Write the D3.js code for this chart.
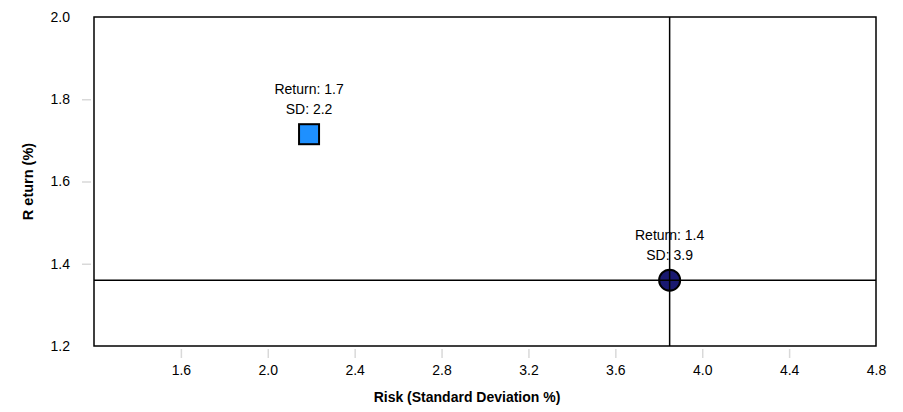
<!DOCTYPE html>
<html>
<head>
<meta charset="utf-8">
<script src="https://cdn.jsdelivr.net/npm/d3@7"></script>
<style>
  body { margin: 0; background: #fff; }
  svg { display: block; font-family: "Liberation Sans", Arial, sans-serif; }
</style>
</head>
<body>
<div id="chart"></div>
<script>
// data
const portfolios = ['Portfolio A', 'Portfolio B'];
const risk = [2.19, 3.85];
const ret = [1.715, 1.36];
const shapes = ['square', 'circle'];
const fills = ['#1e90ff', '#191970'];
const xTicks = [1.6, 2.0, 2.4, 2.8, 3.2, 3.6, 4.0, 4.4, 4.8];
const yTicks = [1.2, 1.4, 1.6, 1.8, 2.0];

const width = 903, height = 412;
const margin = { top: 17, right: 27, bottom: 66, left: 94 };
const plotW = width - margin.left - margin.right;
const plotH = height - margin.top - margin.bottom;

const svg = d3.select('#chart').append('svg')
  .attr('width', width)
  .attr('height', height);

const x = d3.scaleLinear().domain([1.2, 4.8]).range([0, plotW]);
const y = d3.scaleLinear().domain([1.2, 2.0]).range([plotH, 0]);

const g = svg.append('g').attr('transform', `translate(${margin.left},${margin.top})`);

// x axis
const xAxis = g.append('g')
  .attr('transform', `translate(0,${plotH + 3})`)
  .call(d3.axisBottom(x).tickValues(xTicks).tickFormat(d3.format('.1f')).tickSize(9).tickPadding(7));
xAxis.select('.domain').remove();
xAxis.selectAll('.tick line').attr('stroke', '#d9d9d9').attr('stroke-width', 1.5)
  .style('display', d => d >= 4.8 ? 'none' : null);
xAxis.selectAll('.tick text').attr('font-size', 14).attr('fill', '#000');

// y axis
const yAxis = g.append('g')
  .attr('transform', 'translate(-3,0)')
  .call(d3.axisLeft(y).tickValues(yTicks).tickFormat(d3.format('.1f')).tickSize(9).tickPadding(12));
yAxis.select('.domain').remove();
yAxis.selectAll('.tick line').attr('stroke', '#d9d9d9').attr('stroke-width', 1.5)
  .style('display', d => (d <= 1.2 || d >= 2.0) ? 'none' : null);
yAxis.selectAll('.tick text').attr('font-size', 14).attr('fill', '#000');

// axis titles
svg.append('text')
  .attr('x', 467)
  .attr('y', 402)
  .attr('text-anchor', 'middle')
  .attr('font-size', 14)
  .attr('font-weight', 'bold')
  .text('Risk (Standard Deviation %)');

svg.append('text')
  .attr('transform', `translate(33,${margin.top + plotH / 2}) rotate(-90)`)
  .attr('text-anchor', 'middle')
  .attr('font-size', 14.5)
  .attr('font-weight', 'bold')
  .text('R eturn (%)');

// points
portfolios.forEach((p, i) => {
  const cx = x(risk[i]), cy = y(ret[i]);
  if (shapes[i] === 'square') {
    g.append('rect')
      .attr('x', cx - 10).attr('y', cy - 10)
      .attr('width', 20).attr('height', 20)
      .attr('fill', fills[i]).attr('stroke', '#000').attr('stroke-width', 2);
  } else {
    g.append('circle')
      .attr('cx', cx).attr('cy', cy).attr('r', 10.5)
      .attr('fill', fills[i]).attr('stroke', '#000').attr('stroke-width', 2);
  }
});

// crosshair on the second portfolio
g.append('line')
  .attr('x1', x(risk[1])).attr('x2', x(risk[1]))
  .attr('y1', 0).attr('y2', plotH)
  .attr('stroke', '#000').attr('stroke-width', 1.5);
g.append('line')
  .attr('x1', 0).attr('x2', plotW)
  .attr('y1', y(ret[1])).attr('y2', y(ret[1]))
  .attr('stroke', '#000').attr('stroke-width', 1.5);

// labels
portfolios.forEach((p, i) => {
  const cx = x(risk[i]), cy = y(ret[i]);
  g.append('text')
    .attr('x', cx).attr('y', cy - 40)
    .attr('text-anchor', 'middle').attr('font-size', 14)
    .text('Return: ' + ret[i].toFixed(1));
  g.append('text')
    .attr('x', cx).attr('y', cy - 20)
    .attr('text-anchor', 'middle').attr('font-size', 14)
    .text('SD: ' + risk[i].toFixed(1));
});

// frame
g.append('rect')
  .attr('x', 0).attr('y', 0)
  .attr('width', plotW).attr('height', plotH)
  .attr('fill', 'none').attr('stroke', '#000').attr('stroke-width', 1.5);
</script>
</body>
</html>
